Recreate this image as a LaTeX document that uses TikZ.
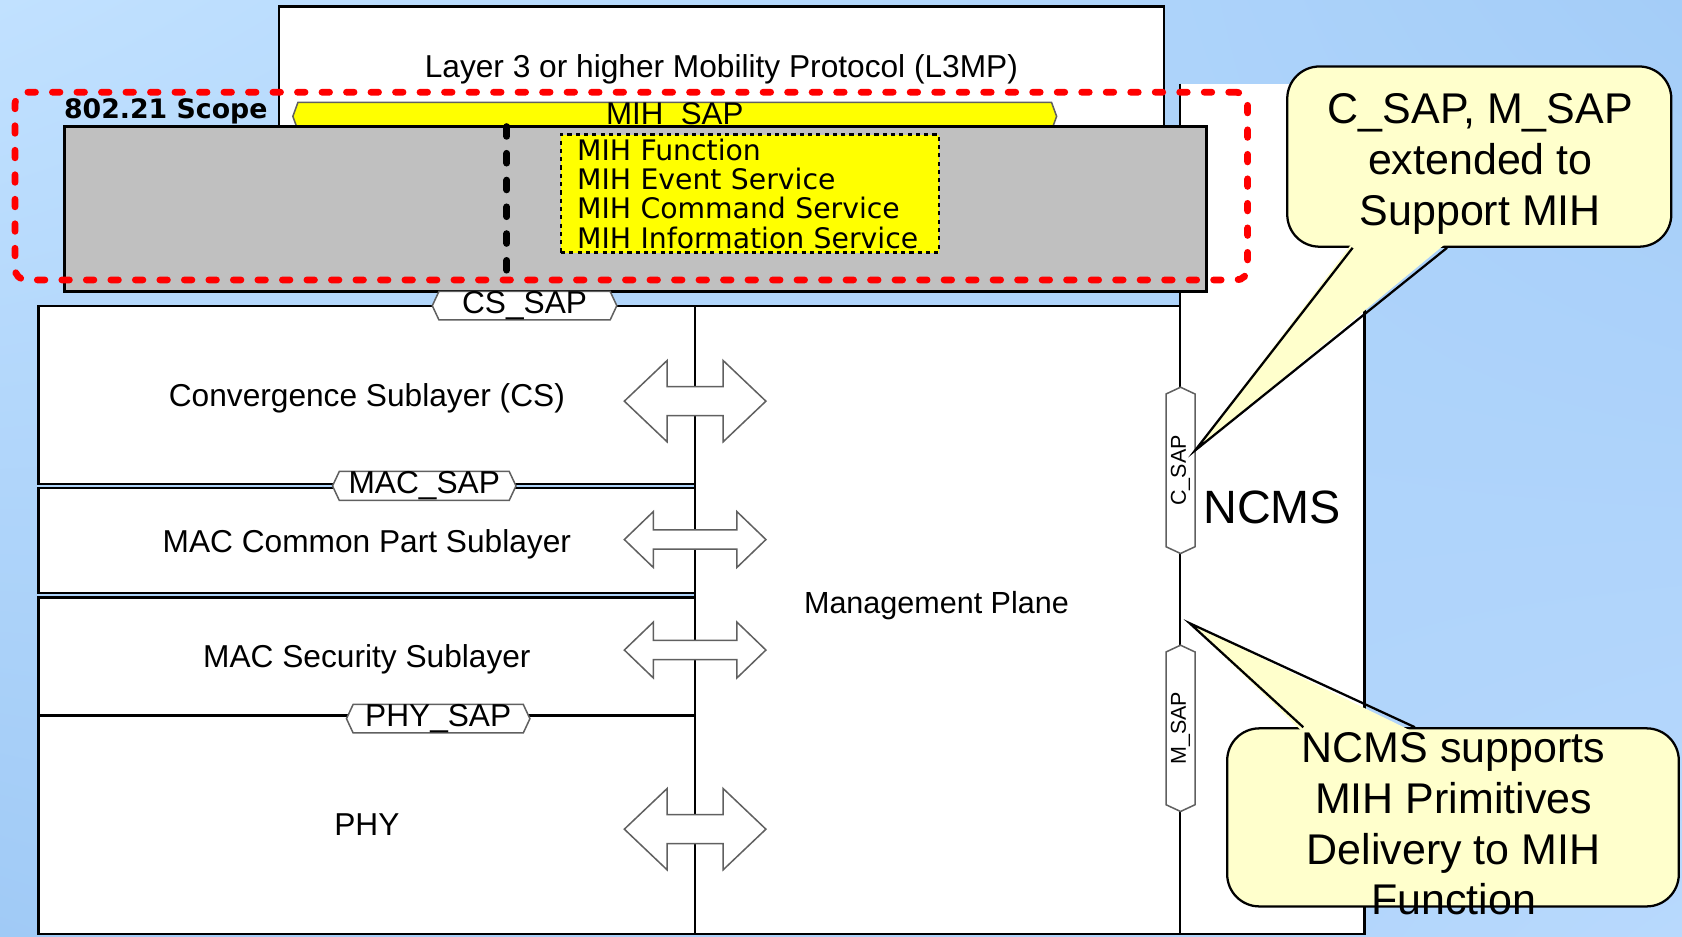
\documentclass[tikz,border=0pt]{standalone}
\usepackage{fontspec}
\setmainfont{Liberation Sans}
\newfontfamily\verdanafont{DejaVu Sans}
\definecolor{bgtl}{RGB}{193,225,255}
\definecolor{bgtr}{RGB}{164,205,248}
\definecolor{bgbl}{RGB}{160,202,246}
\definecolor{bgbr}{RGB}{184,217,253}
\definecolor{mihgray}{RGB}{192,192,192}
\definecolor{mihyellow}{RGB}{255,255,0}
\definecolor{notefill}{RGB}{255,255,204}
\definecolor{scopered}{RGB}{255,0,0}
\definecolor{tagline}{RGB}{96,96,96}
\usepackage{tikz}
\usetikzlibrary{shapes.symbols,shadings,calc}

\tikzset{
  layerbox/.style={draw=black, line width=0.6pt, fill=white, inner sep=0pt, outer sep=0pt, text depth=0pt, font=\fontsize{8.4}{10}\selectfont},
  saptag/.style={signal, signal to=east and west, signal pointer angle=130, draw=tagline, line width=0.4pt, fill=white, inner sep=0pt, outer sep=0pt, font=\fontsize{8.4}{9}\selectfont},
  vsaptag/.style={saptag, rotate=90, minimum width=1.55cm, minimum height=0.27cm, font=\fontsize{5.7}{6}\selectfont},
  planearrow/.style={draw=tagline, line width=0.4pt, fill=white},
  notebox/.style={draw=black, line width=0.6pt, fill=notefill, rounded corners=0.3cm, inner sep=0pt},
  notetext/.style={align=center, inner sep=0pt, font=\fontsize{11.4}{13.5}\selectfont},
  scopeline/.style={draw=scopered, line width=1.8pt, line cap=round, dash pattern=on 2pt off 4.5pt, rounded corners=3pt, inner sep=0pt},
}

\begin{document}
\begin{tikzpicture}
  \useasboundingbox (0,0) rectangle (15.68,8.73);
  % Background
  \shade[upper left=bgtl, upper right=bgtr, lower left=bgbl, lower right=bgbr] (0,0) rectangle (15.68,8.73);

  % Mobility protocol on top
  \node[layerbox, minimum width=8.25cm, minimum height=1.12cm] (l3mp) at (6.725,8.11) {Layer 3 or higher Mobility Protocol (L3MP)};

  % NCMS column (open at the top)
  \node[fill=white, minimum width=1.72cm, minimum height=7.93cm, inner sep=0pt, outer sep=0pt] (ncmsbox) at (11.86,3.985) {};
  \draw[line width=0.6pt] (ncmsbox.north west) -- (ncmsbox.south west) -- (ncmsbox.south east) -- (ncmsbox.north east);

  % MIH_SAP strip
  \node[saptag, fill=mihyellow, signal pointer angle=140, minimum width=7.12cm, minimum height=0.23cm, font=\fontsize{8.3}{9}\selectfont] (mihsap) at (6.29,7.645) {MIH\_SAP};

  % MIH layer
  \node[draw=black, line width=0.7pt, fill=mihgray, minimum width=10.65cm, minimum height=1.54cm, inner sep=0pt] (mihlayer) at (5.925,6.78) {};
  \node[draw=black, line width=0.6pt, dash pattern=on 1.1pt off 1.1pt, fill=mihyellow, text width=3.22cm, inner xsep=0.15cm, inner ysep=0pt, minimum height=1.10cm, align=left, font=\verdanafont\fontsize{7.5}{7.8}\selectfont] (mihfunc) at (6.99,6.925) {MIH Function\\MIH Event Service\\MIH Command Service\\MIH Information Service};

  % Scope
  \node[scopeline, minimum width=11.49cm, minimum height=1.75cm] (scope) at (5.885,6.995) {};
  \node[anchor=west, inner sep=0pt, font=\verdanafont\bfseries\fontsize{7.1}{8}\selectfont] (scopelabel) at (0.59,7.69) {802.21 Scope};
  \draw[line width=1.8pt, line cap=round, dash pattern=on 2.6pt off 4.5pt] (4.725,7.55) -- (4.725,6.10);

  % Data plane stack
  \node[layerbox, minimum width=6.12cm, minimum height=1.66cm] (cs) at (3.42,5.05) {Convergence Sublayer (CS)};
  \node[layerbox, minimum width=6.12cm, minimum height=0.98cm] (maccps) at (3.42,3.69) {MAC Common Part Sublayer};
  \node[layerbox, minimum width=6.12cm, minimum height=1.10cm] (macsec) at (3.42,2.61) {MAC Security Sublayer};
  \node[layerbox, minimum width=6.12cm, minimum height=2.04cm] (phy) at (3.42,1.04) {PHY};

  % Management plane
  \node[layerbox, minimum width=4.52cm, minimum height=5.86cm] (mgmt) at (8.74,2.95) {};
  \node[inner sep=0pt, text depth=0pt, font=\fontsize{8.1}{10}\selectfont] (mgmtlabel) at (8.73,3.11) {Management Plane};

  % Double arrows between planes
  \foreach \yc/\hl/\hh/\sh in {4.99/0.40/0.38/0.135, 3.70/0.27/0.26/0.09, 2.67/0.27/0.26/0.09, 1.00/0.40/0.38/0.135}
    \draw[planearrow] (5.82,\yc) -- ({5.82+\hl},{\yc+\hh}) -- ({5.82+\hl},{\yc+\sh}) -- ({7.14-\hl},{\yc+\sh})
      -- ({7.14-\hl},{\yc+\hh}) -- (7.14,\yc) -- ({7.14-\hl},{\yc-\hh}) -- ({7.14-\hl},{\yc-\sh})
      -- ({5.82+\hl},{\yc-\sh}) -- ({5.82+\hl},{\yc-\hh}) -- cycle;

  % SAPs
  \node[saptag, minimum width=1.72cm, minimum height=0.24cm] (cssap) at (4.89,5.88) {CS\_SAP};
  \node[saptag, minimum width=1.71cm, minimum height=0.27cm] (macsap) at (3.955,4.20) {MAC\_SAP};
  \node[saptag, minimum width=1.71cm, minimum height=0.26cm] (physap) at (4.085,2.03) {PHY\_SAP};
  \node[vsaptag] (csap) at (11.005,4.345) {C\_SAP};
  \node[vsaptag] (msap) at (11.005,1.94) {M\_SAP};

  \node[inner sep=0pt, font=\fontsize{12.4}{14}\selectfont] (ncmslabel) at (11.86,4.00) {NCMS};

  % Callout: C_SAP, M_SAP
  \node[notebox, minimum width=3.58cm, minimum height=1.68cm] (csapnote) at (13.79,7.27) {};
  \coordinate (csaptip) at (11.14,4.53);
  \fill[notefill] ($(csapnote.south west)+(0.62,0.05)$) -- (csaptip) -- ($(csapnote.south west)+(1.50,0.05)$) -- cycle;
  \draw[line width=0.6pt] ($(csapnote.south west)+(0.62,0)$) -- (csaptip) -- ($(csapnote.south west)+(1.50,0)$);
  \node[notetext] (csaptext) at (13.80,7.20) {C\_SAP, M\_SAP\\extended to\\Support MIH};

  % Callout: NCMS supports
  \node[notebox, minimum width=4.21cm, minimum height=1.66cm] (msapnote) at (13.545,1.11) {};
  \coordinate (msaptip) at (11.09,2.92);
  \fill[notefill] ($(msapnote.north west)+(0.72,-0.05)$) -- (msaptip) -- ($(msapnote.north west)+(1.76,-0.05)$) -- cycle;
  \draw[line width=0.6pt] ($(msapnote.north west)+(0.72,0)$) -- (msaptip) -- ($(msapnote.north west)+(1.76,0)$);
  \node[notetext] (msaptext) at (13.55,1.05) {NCMS supports\\MIH Primitives\\Delivery to MIH\\Function};
\end{tikzpicture}
\end{document}
